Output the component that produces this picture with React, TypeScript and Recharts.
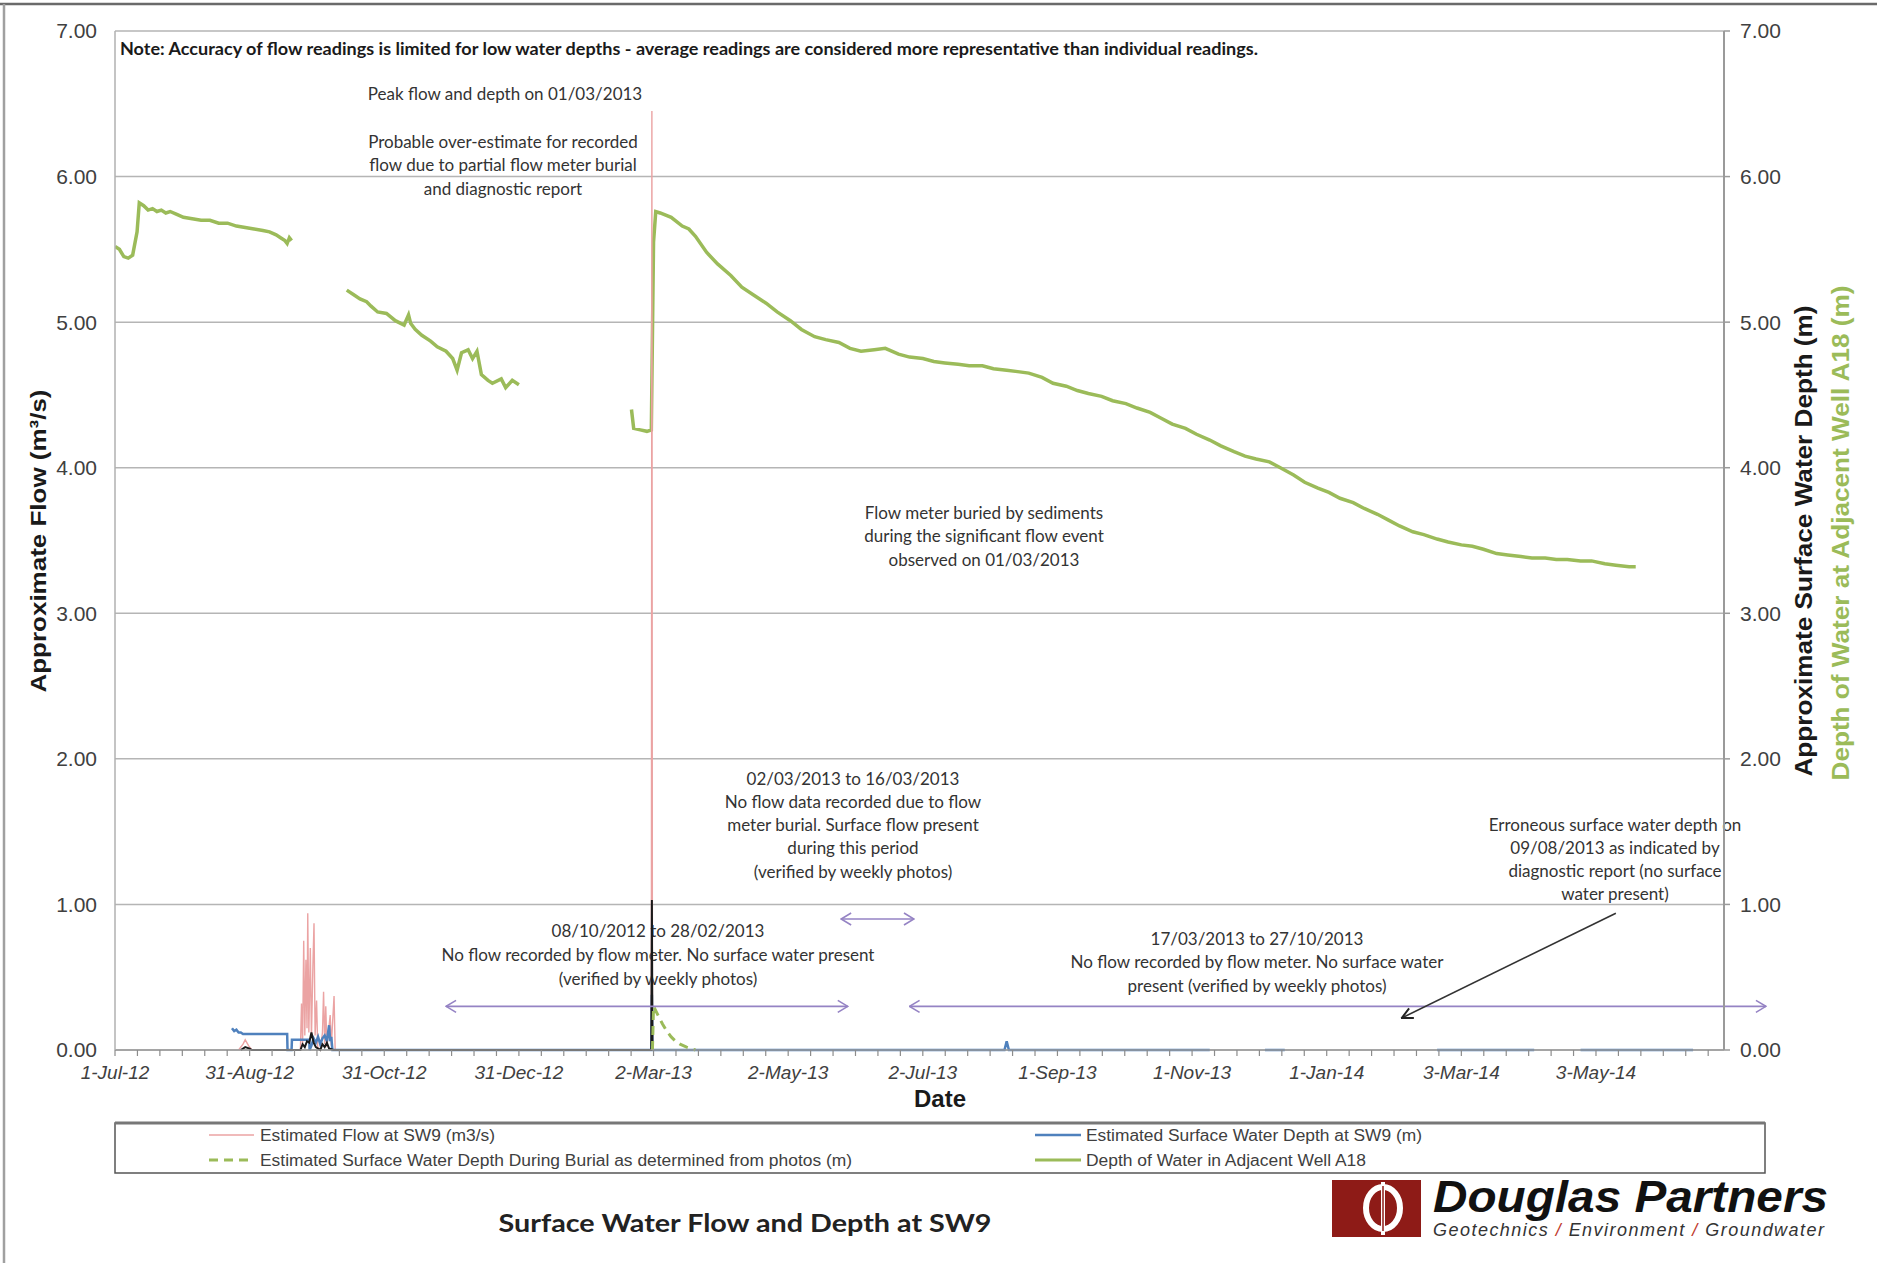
import React from 'react'
import { ComposedChart, Line, XAxis, YAxis, CartesianGrid, ReferenceLine } from 'recharts'

// ---- data (dates as yyyy-mm-dd, optional hh:mm) ----

const X_TICK_LABELS = [
  '1-Jul-12', '31-Aug-12', '31-Oct-12', '31-Dec-12', '2-Mar-13', '2-May-13',
  '2-Jul-13', '1-Sep-13', '1-Nov-13', '1-Jan-14', '3-Mar-14', '3-May-14',
]
const X_TICK_DATES = [
  '2012-07-01', '2012-08-31', '2012-10-31', '2012-12-31', '2013-03-02', '2013-05-02',
  '2013-07-02', '2013-09-01', '2013-11-01', '2014-01-01', '2014-03-03', '2014-05-03',
]
const X_END = '2014-06-30'
const Y_TICKS = [0, 1, 2, 3, 4, 5, 6, 7]

// Estimated Flow at SW9 (m3/s)
const FLOW: [string, number][] = [
  ['2012-08-26 00:00', 0], ['2012-08-28 00:00', 0.04], ['2012-08-29 00:00', 0.07],
  ['2012-08-30 12:00', 0.03], ['2012-09-01 00:00', 0],
  ['2012-09-23 00:00', 0], ['2012-09-23 12:00', 0.32], ['2012-09-24 00:00', 0.04],
  ['2012-09-24 12:00', 0.75], ['2012-09-25 00:00', 0.1], ['2012-09-25 12:00', 0.62],
  ['2012-09-26 00:00', 0.15], ['2012-09-26 08:00', 0.94], ['2012-09-26 20:00', 0.12],
  ['2012-09-27 12:00', 0.7], ['2012-09-28 00:00', 0.08], ['2012-09-28 16:00', 0.58],
  ['2012-09-29 04:00', 0.87], ['2012-09-29 16:00', 0.1], ['2012-09-30 08:00', 0.34],
  ['2012-09-30 20:00', 0.02], ['2012-10-02 00:00', 0], ['2012-10-03 00:00', 0.12],
  ['2012-10-03 12:00', 0.4], ['2012-10-04 00:00', 0.04], ['2012-10-04 12:00', 0.3],
  ['2012-10-05 00:00', 0.02], ['2012-10-06 12:00', 0.24], ['2012-10-07 00:00', 0.03],
  ['2012-10-08 06:00', 0.37], ['2012-10-08 18:00', 0],
  ['2013-03-01 00:00', 0], ['2013-03-01 06:00', 6.45], ['2013-03-01 12:00', 0],
  ['2013-03-02 00:00', 0],
]

// averaged flow trace (black)
const FLOW_AVG: [string, number][] = [
  ['2012-08-27', 0], ['2012-08-29', 0.02], ['2012-08-31', 0.01], ['2012-09-01', 0],
  ['2012-09-23', 0], ['2012-09-24', 0.04], ['2012-09-25', 0.02], ['2012-09-26', 0.06],
  ['2012-09-27', 0.05], ['2012-09-28', 0.12], ['2012-09-29', 0.05], ['2012-09-30', 0.02],
  ['2012-10-02', 0], ['2012-10-03', 0.04], ['2012-10-04', 0.02], ['2012-10-05', 0.05],
  ['2012-10-06', 0.01], ['2012-10-08', 0],
  ['2013-03-01 00:00', 0], ['2013-03-01 06:00', 1.03], ['2013-03-01 12:00', 0],
]

// Estimated Surface Water Depth at SW9 (m)
const SW_DEPTH: [string, number | null][] = [
  ['2012-08-23', 0.15], ['2012-08-24', 0.13], ['2012-08-25', 0.14], ['2012-08-26', 0.12],
  ['2012-08-27', 0.12], ['2012-08-28', 0.11], ['2012-09-17', 0.11], ['2012-09-17 04:00', 0],
  ['2012-09-19', 0], ['2012-09-19 04:00', 0.07], ['2012-09-27', 0.07], ['2012-09-27 04:00', 0],
  ['2012-09-28', 0.03], ['2012-09-29', 0.08], ['2012-09-30', 0.05], ['2012-10-01', 0.09],
  ['2012-10-02', 0.04], ['2012-10-03', 0.08], ['2012-10-04', 0.1], ['2012-10-05', 0.06],
  ['2012-10-06', 0.17], ['2012-10-06 12:00', 0.06], ['2012-10-07', 0.09], ['2012-10-07 12:00', 0],
  ['2013-03-01 00:00', 0], ['2013-03-01 06:00', 0.38], ['2013-03-01 12:00', 0],
  ['2013-08-08', 0], ['2013-08-09', 0.06], ['2013-08-10', 0], ['2013-11-09', 0],
  ['2013-11-20', null], ['2013-12-04', 0], ['2013-12-13', 0],
  ['2014-01-20', null], ['2014-02-20', 0], ['2014-04-05', 0],
  ['2014-04-15', null], ['2014-04-26', 0], ['2014-06-16', 0],
]

// Estimated Surface Water Depth During Burial as determined from photos (m)
const BURIAL_DEPTH: [string, number][] = [
  ['2013-03-01 12:00', 0], ['2013-03-02', 0.3], ['2013-03-04', 0.24], ['2013-03-06', 0.18],
  ['2013-03-08', 0.13], ['2013-03-10', 0.09], ['2013-03-12', 0.06], ['2013-03-14', 0.04],
  ['2013-03-17', 0.02], ['2013-03-21', 0],
]

// Depth of Water in Adjacent Well A18
const WELL_A18: [string, number | null][] = [
  ['2012-07-01', 5.52], ['2012-07-03', 5.5], ['2012-07-05', 5.45], ['2012-07-07', 5.44],
  ['2012-07-09', 5.46], ['2012-07-11', 5.62], ['2012-07-12', 5.82], ['2012-07-14', 5.8],
  ['2012-07-16', 5.77], ['2012-07-18', 5.78], ['2012-07-20', 5.76], ['2012-07-22', 5.77],
  ['2012-07-24', 5.75], ['2012-07-26', 5.76], ['2012-07-29', 5.74], ['2012-08-01', 5.72],
  ['2012-08-05', 5.71], ['2012-08-09', 5.7], ['2012-08-13', 5.7], ['2012-08-17', 5.68],
  ['2012-08-21', 5.68], ['2012-08-25', 5.66], ['2012-08-29', 5.65], ['2012-09-02', 5.64],
  ['2012-09-06', 5.63], ['2012-09-09', 5.62], ['2012-09-12', 5.6], ['2012-09-14', 5.58],
  ['2012-09-16', 5.56], ['2012-09-17', 5.54], ['2012-09-18', 5.58], ['2012-09-19', 5.56],
  ['2012-09-25', null],
  ['2012-10-14', 5.22], ['2012-10-17', 5.19], ['2012-10-20', 5.16], ['2012-10-23', 5.14],
  ['2012-10-25', 5.11], ['2012-10-28', 5.07], ['2012-11-01', 5.06], ['2012-11-05', 5.01],
  ['2012-11-09', 4.98], ['2012-11-11', 5.05], ['2012-11-12', 4.99], ['2012-11-14', 4.95],
  ['2012-11-17', 4.91], ['2012-11-21', 4.87], ['2012-11-24', 4.83], ['2012-11-28', 4.8],
  ['2012-12-01', 4.75], ['2012-12-03', 4.67], ['2012-12-05', 4.79], ['2012-12-08', 4.81],
  ['2012-12-10', 4.75], ['2012-12-12', 4.8], ['2012-12-14', 4.64], ['2012-12-17', 4.6],
  ['2012-12-19', 4.58], ['2012-12-23', 4.61], ['2012-12-25', 4.55], ['2012-12-28', 4.6],
  ['2012-12-31', 4.57],
  ['2013-01-15', null],
  ['2013-02-20', 4.4], ['2013-02-21', 4.27], ['2013-02-24', 4.26], ['2013-02-27', 4.25],
  ['2013-03-01', 4.26], ['2013-03-02', 5.55], ['2013-03-03', 5.76], ['2013-03-05', 5.75],
  ['2013-03-10', 5.72], ['2013-03-15', 5.66], ['2013-03-18', 5.64], ['2013-03-21', 5.59],
  ['2013-03-26', 5.48], ['2013-03-31', 5.4], ['2013-04-06', 5.32], ['2013-04-11', 5.24],
  ['2013-04-17', 5.18], ['2013-04-22', 5.13], ['2013-04-27', 5.07], ['2013-05-03', 5.01],
  ['2013-05-08', 4.95], ['2013-05-14', 4.9], ['2013-05-19', 4.88], ['2013-05-25', 4.86],
  ['2013-05-30', 4.82], ['2013-06-04', 4.8], ['2013-06-10', 4.81], ['2013-06-15', 4.82],
  ['2013-06-21', 4.78], ['2013-06-26', 4.76], ['2013-07-02', 4.75], ['2013-07-07', 4.73],
  ['2013-07-12', 4.72], ['2013-07-18', 4.71], ['2013-07-23', 4.7], ['2013-07-29', 4.7],
  ['2013-08-03', 4.68], ['2013-08-09', 4.67], ['2013-08-14', 4.66], ['2013-08-19', 4.65],
  ['2013-08-25', 4.62], ['2013-08-30', 4.58], ['2013-09-05', 4.56], ['2013-09-10', 4.53],
  ['2013-09-15', 4.51], ['2013-09-21', 4.49], ['2013-09-26', 4.46], ['2013-10-02', 4.44],
  ['2013-10-07', 4.41], ['2013-10-13', 4.38], ['2013-10-18', 4.34], ['2013-10-23', 4.3],
  ['2013-10-29', 4.27], ['2013-11-03', 4.23], ['2013-11-09', 4.19], ['2013-11-14', 4.15],
  ['2013-11-20', 4.11], ['2013-11-25', 4.08], ['2013-11-30', 4.06], ['2013-12-06', 4.04],
  ['2013-12-11', 4.0], ['2013-12-17', 3.95], ['2013-12-22', 3.9], ['2013-12-28', 3.86],
  ['2014-01-02', 3.83], ['2014-01-07', 3.79], ['2014-01-13', 3.76], ['2014-01-18', 3.72],
  ['2014-01-24', 3.68], ['2014-01-29', 3.64], ['2014-02-03', 3.6], ['2014-02-09', 3.56],
  ['2014-02-14', 3.54], ['2014-02-20', 3.51], ['2014-02-25', 3.49], ['2014-03-03', 3.47],
  ['2014-03-08', 3.46], ['2014-03-13', 3.44], ['2014-03-19', 3.41], ['2014-03-24', 3.4],
  ['2014-03-30', 3.39], ['2014-04-04', 3.38], ['2014-04-10', 3.38], ['2014-04-15', 3.37],
  ['2014-04-20', 3.37], ['2014-04-26', 3.36], ['2014-05-01', 3.36], ['2014-05-07', 3.34],
  ['2014-05-12', 3.33], ['2014-05-18', 3.32], ['2014-05-21', 3.32],
]

// period arrows: [from, to, level]
const PERIOD_ARROWS: [string, string, number][] = [
  ['2013-05-26', '2013-06-28', 0.9],
  ['2012-11-28', '2013-05-29', 0.3],
  ['2013-06-26', '2014-07-19', 0.3],
]
// pointer to erroneous reading: [from, fromLevel, to, toLevel]
const POINTER: [string, number, string, number] = ['2014-05-12', 0.94, '2014-02-04', 0.22]

// ---- helpers ----

const START = Date.UTC(2012, 6, 1)
function dayOf(s: string) {
  const [d, t] = s.split(' ')
  const [y, m, dd] = d.split('-').map(Number)
  const [hh, mm] = t ? t.split(':').map(Number) : [0, 0]
  return (Date.UTC(y, m - 1, dd, hh, mm) - START) / 86400000
}
const toPoints = (rows: [string, number | null][]) => rows.map(([d, v]) => ({ x: dayOf(d), y: v }))

const MAJOR_DAYS = X_TICK_DATES.map(dayOf)
const STEP = MAJOR_DAYS[1] - MAJOR_DAYS[0]
const ALL_TICKS: number[] = []
for (let i = 0; i * (STEP / 6) <= dayOf(X_END); i++) ALL_TICKS.push(i * (STEP / 6))

const ARIAL = "'Liberation Sans', Arial, sans-serif"
const NARROW = "'Liberation Sans Narrow', 'Liberation Sans', Arial, sans-serif"
const CALIBRI = "Lato, 'Open Sans', sans-serif"

const GREEN = '#9BBB59'
const BLUE = '#4F81BD'
const PINK = '#EBA3A3'
const PURPLE = '#9583C4'

function DateTick(props: any) {
  const { x, y, payload } = props
  const idx = Math.round(payload.value / STEP)
  const isMajor = Math.abs(payload.value - idx * STEP) < 1e-6
  return (
    <g>
      <line x1={x} x2={x} y1={y} y2={y + 6} stroke="#8c8c8c" strokeWidth={1.2} />
      {isMajor && X_TICK_LABELS[idx] && (
        <text x={x} y={y + 29} textAnchor="middle" fontFamily={ARIAL} fontStyle="italic"
          fontSize={19} fill="#404040">
          {X_TICK_LABELS[idx]}
        </text>
      )}
    </g>
  )
}

function Block({ x, y, lines, step = 23.5 }: { x: number; y: number; lines: string[]; step?: number }) {
  return (
    <>
      {lines.map((l, i) => (
        <text key={i} x={x} y={y + i * step} textAnchor="middle" dominantBaseline="central"
          fontFamily={CALIBRI} fontSize={17} fill="#333">
          {l}
        </text>
      ))}
    </>
  )
}

function arrowShape(color: string, both: boolean, marker: string) {
  return (p: any) => (
    <line x1={p.x1} y1={p.y1} x2={p.x2} y2={p.y2} stroke={color} strokeWidth={1.6}
      markerStart={both ? `url(#${marker})` : undefined} markerEnd={`url(#${marker})`} />
  )
}

export default function App() {
  const W = 1877
  const H = 1263
  return (
    <div style={{ position: 'absolute', left: 0, top: 0, width: W, height: H, background: '#fff', overflow: 'hidden' }}>
      {/* annotations underneath the series */}
      <svg width={W} height={H} style={{ position: 'absolute', left: 0, top: 0 }}>
        <defs>
          <marker id="purpleHead" viewBox="0 0 12 14" refX={11} refY={7} markerWidth={12} markerHeight={14}
            markerUnits="userSpaceOnUse" orient="auto-start-reverse">
            <path d="M1,1 L11,7 L1,13" fill="none" stroke={PURPLE} strokeWidth={1.6} />
          </marker>
          <marker id="blackHead" viewBox="0 0 12 12" refX={11} refY={6} markerWidth={13} markerHeight={13}
            markerUnits="userSpaceOnUse" orient="auto-start-reverse">
            <path d="M1,1 L11,6 L1,11" fill="none" stroke="#222" strokeWidth={1.8} />
          </marker>
        </defs>
        <text x={120} y={49} dominantBaseline="central" fontFamily={CALIBRI} fontWeight="bold"
          fontSize={16.5} fill="#1a1a1a" textLength={1138} lengthAdjust="spacingAndGlyphs">
          Note: Accuracy of flow readings is limited for low water depths - average readings are considered more representative than individual readings.
        </text>
        <Block x={505} y={93} lines={['Peak flow and depth on 01/03/2013']} />
        <Block x={503} y={141} lines={['Probable over-estimate for recorded', 'flow due to partial flow meter burial', 'and diagnostic report']} />
        <Block x={984} y={512} lines={['Flow meter buried by sediments', 'during the significant flow event', 'observed on 01/03/2013']} />
        <Block x={853} y={778} step={23.3} lines={['02/03/2013 to 16/03/2013', 'No flow data recorded due to flow', 'meter burial. Surface flow present', 'during this period', '(verified by weekly photos)']} />
        <Block x={658} y={930} step={24} lines={['08/10/2012 to 28/02/2013', 'No flow recorded by flow meter. No surface water present', '(verified by weekly photos)']} />
        <Block x={1257} y={938} lines={['17/03/2013 to 27/10/2013', 'No flow recorded by flow meter. No surface water', 'present (verified by weekly photos)']} />
        <Block x={1615} y={824} step={23} lines={['Erroneous surface water depth on', '09/08/2013 as indicated by', 'diagnostic report (no  surface', 'water present)']} />
      </svg>

      <div style={{ position: 'absolute', left: 0, top: 0 }}>
        <ComposedChart width={W} height={H} margin={{ top: 31, right: 53, bottom: 173, left: 0 }}>
          <CartesianGrid yAxisId="flow" vertical={false} stroke="#b5b5b5" strokeWidth={1.5} />
          <XAxis type="number" dataKey="x" domain={[0, dayOf(X_END)]} allowDataOverflow ticks={ALL_TICKS}
            interval={0} tick={<DateTick />} tickLine={false} tickSize={0} tickMargin={0} height={40}
            axisLine={{ stroke: '#9a9a9a', strokeWidth: 1.5 }} />
          <YAxis yAxisId="flow" orientation="left" domain={[0, 7]} ticks={Y_TICKS} width={115}
            tickFormatter={(v: number) => v.toFixed(2)} tickLine={false} tickSize={0} tickMargin={18}
            tick={{ fill: '#404040', fontSize: 21, fontFamily: ARIAL }}
            axisLine={{ stroke: '#b0b0b0', strokeWidth: 1.5 }} />
          <YAxis yAxisId="depth" orientation="right" domain={[0, 7]} ticks={Y_TICKS} width={100}
            tickFormatter={(v: number) => v.toFixed(2)} tickSize={6} tickMargin={10}
            tickLine={{ stroke: '#9a9a9a', strokeWidth: 1.5 }}
            tick={{ fill: '#404040', fontSize: 21, fontFamily: ARIAL }}
            axisLine={{ stroke: '#9a9a9a', strokeWidth: 2 }} />

          <Line yAxisId="depth" data={toPoints(WELL_A18)} dataKey="y" stroke={GREEN} strokeWidth={3.5}
            dot={false} activeDot={false} isAnimationActive={false} type="linear" />
          <Line yAxisId="flow" data={toPoints(FLOW)} dataKey="y" stroke={PINK} strokeWidth={1.4}
            dot={false} activeDot={false} isAnimationActive={false} type="linear" />
          <Line yAxisId="depth" data={toPoints(SW_DEPTH)} dataKey="y" stroke={BLUE} strokeWidth={2.5}
            dot={false} activeDot={false} isAnimationActive={false} type="linear" />
          <Line yAxisId="flow" data={toPoints(FLOW_AVG)} dataKey="y" stroke="#1a1a1a" strokeWidth={2}
            dot={false} activeDot={false} isAnimationActive={false} type="linear" />
          <Line yAxisId="depth" data={toPoints(BURIAL_DEPTH)} dataKey="y" stroke={GREEN} strokeWidth={3}
            strokeDasharray="9 6" dot={false} activeDot={false} isAnimationActive={false} type="linear" />

          {PERIOD_ARROWS.map(([a, b, lvl], i) => (
            <ReferenceLine key={i} yAxisId="flow" ifOverflow="visible"
              segment={[{ x: dayOf(a), y: lvl }, { x: dayOf(b), y: lvl }]}
              shape={arrowShape(PURPLE, true, 'purpleHead')} />
          ))}
          <ReferenceLine yAxisId="flow" ifOverflow="visible"
            segment={[{ x: dayOf(POINTER[0]), y: POINTER[1] }, { x: dayOf(POINTER[2]), y: POINTER[3] }]}
            shape={arrowShape('#333', false, 'blackHead')} />
        </ComposedChart>
      </div>

      {/* titles, legend, logo, frame */}
      <svg width={W} height={H} style={{ position: 'absolute', left: 0, top: 0, pointerEvents: 'none' }}>
        <line x1={0} y1={4} x2={W} y2={4} stroke="#6a6a6a" strokeWidth={2.5} />
        <line x1={4} y1={4} x2={4} y2={H} stroke="#a0a0a0" strokeWidth={2.5} />

        <text transform="translate(38,541) rotate(-90)" textAnchor="middle" dominantBaseline="central"
          fontFamily={ARIAL} fontWeight="bold" fontSize={22} fill="#1a1a1a" textLength={303}
          lengthAdjust="spacingAndGlyphs">
          Approximate Flow (m³/s)
        </text>
        <text transform="translate(1803,541) rotate(-90)" textAnchor="middle" dominantBaseline="central"
          fontFamily={NARROW} fontWeight="bold" fontSize={24} fill="#1a1a1a" textLength={471}
          lengthAdjust="spacingAndGlyphs">
          Approximate Surface Water Depth (m)
        </text>
        <text transform="translate(1840,533) rotate(-90)" textAnchor="middle" dominantBaseline="central"
          fontFamily={NARROW} fontWeight="bold" fontSize={24} fill={GREEN} textLength={495}
          lengthAdjust="spacingAndGlyphs">
          Depth of Water at Adjacent Well A18 (m)
        </text>
        <text x={940} y={1098} textAnchor="middle" dominantBaseline="central" fontFamily={NARROW}
          fontWeight="bold" fontSize={24} fill="#1a1a1a">
          Date
        </text>

        {/* legend */}
        <rect x={115} y={1123} width={1650} height={50} fill="#fff" stroke="#555" strokeWidth={1.5} />
        <line x1={115} y1={1123} x2={1765} y2={1123} stroke="#777" strokeWidth={3} />
        <line x1={209} y1={1135} x2={254} y2={1135} stroke={PINK} strokeWidth={1.4} />
        <text x={260} y={1135} dominantBaseline="central" fontFamily={ARIAL} fontSize={16} fill="#404040"
          textLength={235} lengthAdjust="spacingAndGlyphs">Estimated Flow at SW9 (m3/s)</text>
        <line x1={1035} y1={1135} x2={1081} y2={1135} stroke={BLUE} strokeWidth={2.5} />
        <text x={1086} y={1135} dominantBaseline="central" fontFamily={ARIAL} fontSize={16} fill="#404040"
          textLength={336} lengthAdjust="spacingAndGlyphs">Estimated Surface Water Depth at SW9 (m)</text>
        <line x1={209} y1={1160} x2={254} y2={1160} stroke={GREEN} strokeWidth={3} strokeDasharray="9 6" />
        <text x={260} y={1160} dominantBaseline="central" fontFamily={ARIAL} fontSize={16} fill="#404040"
          textLength={592} lengthAdjust="spacingAndGlyphs">Estimated Surface Water Depth During Burial as determined from photos (m)</text>
        <line x1={1035} y1={1160} x2={1081} y2={1160} stroke={GREEN} strokeWidth={3} />
        <text x={1086} y={1160} dominantBaseline="central" fontFamily={ARIAL} fontSize={16} fill="#404040"
          textLength={280} lengthAdjust="spacingAndGlyphs">Depth of Water in Adjacent Well A18</text>

        {/* chart title */}
        <text x={745} y={1222} textAnchor="middle" dominantBaseline="central" fontFamily={CALIBRI}
          fontWeight="bold" fontSize={25} fill="#222" textLength={493} lengthAdjust="spacingAndGlyphs">
          Surface Water Flow and Depth at SW9
        </text>

        {/* logo */}
        <rect x={1332} y={1180} width={89} height={57} fill="#8E1B17" />
        <ellipse cx={1383} cy={1208} rx={17} ry={21} fill="none" stroke="#fff" strokeWidth={6} />
        <line x1={1383} y1={1182} x2={1383} y2={1235} stroke="#fff" strokeWidth={4} />
        <line x1={1383} y1={1186} x2={1383} y2={1231} stroke="#8E1B17" strokeWidth={1.5} />
        <text x={1433} y={1212} fontFamily={ARIAL} fontWeight="bold" fontStyle="italic" fontSize={45}
          fill="#111" textLength={395} lengthAdjust="spacingAndGlyphs">
          Douglas Partners
        </text>
        <text x={1433} y={1236} fontFamily={ARIAL} fontStyle="italic" fontSize={18} fill="#333"
          textLength={391} lengthAdjust="spacing">
          Geotechnics <tspan fill="#c0392b">/</tspan> Environment <tspan fill="#c0392b">/</tspan> Groundwater
        </text>
      </svg>
    </div>
  )
}
